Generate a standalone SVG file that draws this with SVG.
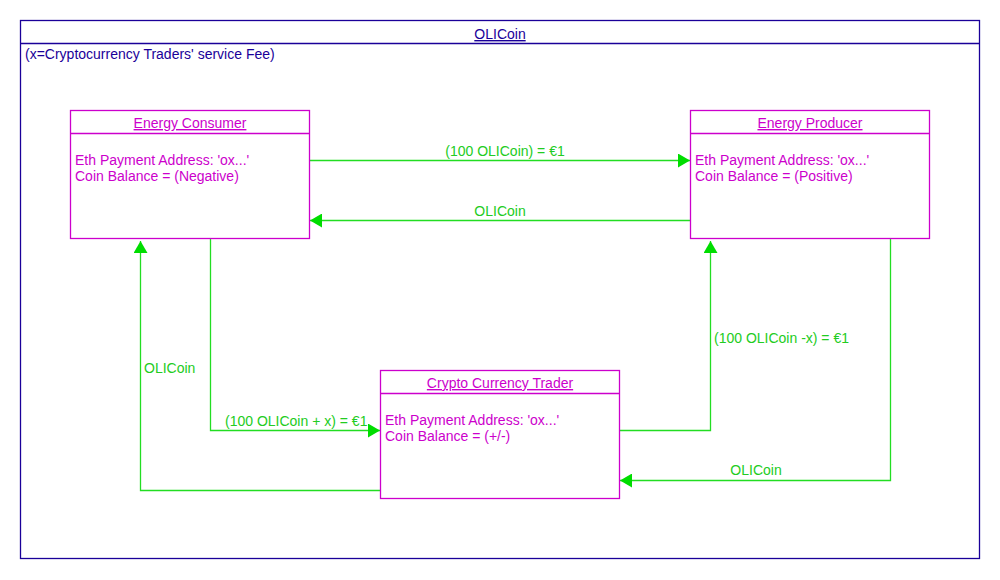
<svg xmlns="http://www.w3.org/2000/svg" width="1000" height="580" viewBox="0 0 1000 580">
<defs>
<style>
text{font-family:"Liberation Sans",Arial,sans-serif;font-size:14px}
.frame{fill:none;stroke:#1a0099;stroke-width:1.3}
.ft{fill:#1a0099}
.box{fill:#fff;stroke:#cc00cc;stroke-width:1.3}
.sep{stroke:#cc00cc;stroke-width:1.3}
.nt{fill:#cc00cc}
.u{text-decoration:underline}
.c{fill:none;stroke:#22dd22;stroke-width:1.3}
.ct{fill:#22cc22}
</style>
<marker id="ah" markerWidth="12" markerHeight="14" refX="12" refY="7" orient="auto" markerUnits="userSpaceOnUse">
<path d="M0,0 L12,7 L0,14 Z" fill="#00dd00"/>
</marker>
</defs>
<rect width="1000" height="580" fill="#fff"/>
<g id="frame">
<rect class="frame" x="20.5" y="20.5" width="959" height="538"/>
<line class="frame" x1="20.5" y1="43.5" x2="979.5" y2="43.5"/>
<text class="ft u" x="500" y="39" text-anchor="middle">OLICoin</text>
<text class="ft" x="25" y="59">(x=Cryptocurrency Traders' service Fee)</text>
</g>
<g id="connectors">
<polyline class="c" points="310,160.5 690,160.5" marker-end="url(#ah)"/>
<text class="ct" x="505" y="156" text-anchor="middle">(100 OLICoin) = €1</text>
<polyline class="c" points="690,220.5 310,220.5" marker-end="url(#ah)"/>
<text class="ct" x="500" y="216" text-anchor="middle">OLICoin</text>
<polyline class="c" points="210.5,239 210.5,430.5 380,430.5" marker-end="url(#ah)"/>
<text class="ct" x="225" y="426">(100 OLICoin + x) = €1</text>
<polyline class="c" points="380,490.5 140.5,490.5 140.5,241" marker-end="url(#ah)"/>
<text class="ct" x="144" y="373">OLICoin</text>
<polyline class="c" points="619,430.5 710.5,430.5 710.5,241" marker-end="url(#ah)"/>
<text class="ct" x="714" y="343">(100 OLICoin -x) = €1</text>
<polyline class="c" points="890.5,239 890.5,480.5 620,480.5" marker-end="url(#ah)"/>
<text class="ct" x="756" y="475" text-anchor="middle">OLICoin</text>
</g>
<g id="consumer">
<rect class="box" x="70.5" y="110.5" width="239" height="128"/>
<line class="sep" x1="70.5" y1="133.5" x2="309.5" y2="133.5"/>
<text class="nt u" x="190" y="128" text-anchor="middle">Energy Consumer</text>
<text class="nt" x="75" y="165">Eth Payment Address: 'ox...'</text>
<text class="nt" x="75" y="181">Coin Balance = (Negative)</text>
</g>
<g id="producer">
<rect class="box" x="690.5" y="110.5" width="239" height="128"/>
<line class="sep" x1="690.5" y1="133.5" x2="929.5" y2="133.5"/>
<text class="nt u" x="810" y="128" text-anchor="middle">Energy Producer</text>
<text class="nt" x="695" y="165">Eth Payment Address: 'ox...'</text>
<text class="nt" x="695" y="181">Coin Balance = (Positive)</text>
</g>
<g id="trader">
<rect class="box" x="380.5" y="370.5" width="239" height="128"/>
<line class="sep" x1="380.5" y1="393.5" x2="619.5" y2="393.5"/>
<text class="nt u" x="500" y="388" text-anchor="middle">Crypto Currency Trader</text>
<text class="nt" x="385" y="425">Eth Payment Address: 'ox...'</text>
<text class="nt" x="385" y="441">Coin Balance = (+/-)</text>
</g>
</svg>
